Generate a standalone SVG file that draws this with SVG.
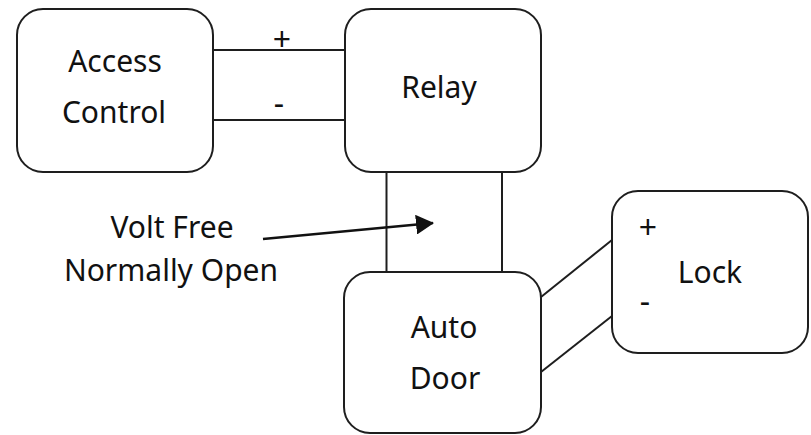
<svg xmlns="http://www.w3.org/2000/svg" width="811" height="435" viewBox="0 0 811 435">
  <style>
    .box { fill: #ffffff; stroke: #1e1e1e; stroke-width: 2; }
    .wire { fill: none; stroke: #1e1e1e; stroke-width: 2; }
    .label { font-family: "Noto Sans", "Open Sans", sans-serif; font-size: 30px; fill: #111111; text-anchor: middle; }
    .sign { font-family: "Noto Sans", "Open Sans", sans-serif; font-size: 32px; fill: #111111; text-anchor: middle; }
  </style>
  <defs>
    <marker id="arrowhead" viewBox="0 0 18 20" refX="17" refY="10" markerWidth="18" markerHeight="20" markerUnits="userSpaceOnUse" orient="auto">
      <path d="M0,0 L18,10 L0,20 z" fill="#111111"/>
    </marker>
  </defs>
  <rect width="811" height="435" fill="#ffffff"/>

  <!-- wiring between the units -->
  <g id="connectors">
    <line class="wire" x1="213" y1="50" x2="345" y2="50"/>
    <line class="wire" x1="213" y1="120" x2="345" y2="120"/>
    <line class="wire" x1="386.5" y1="172" x2="386.5" y2="272"/>
    <line class="wire" x1="502" y1="172" x2="502" y2="272"/>
    <line class="wire" x1="541" y1="297" x2="612" y2="240"/>
    <line class="wire" x1="541" y1="372" x2="612" y2="316"/>
    <line x1="263" y1="239" x2="433" y2="223" stroke="#111111" stroke-width="2.5" marker-end="url(#arrowhead)"/>
    <text class="sign" x="282" y="51">+</text>
    <text class="sign" x="279" y="115">-</text>
  </g>

  <g id="access-control">
    <rect class="box" x="17" y="9" width="196" height="163" rx="26" ry="26"/>
    <text class="label" x="115" y="72">Access</text>
    <text class="label" x="114" y="123">Control</text>
  </g>

  <g id="relay">
    <rect class="box" x="345" y="9" width="196" height="163" rx="26" ry="26"/>
    <text class="label" x="439" y="98">Relay</text>
  </g>

  <g id="contact-note">
    <text class="label" x="172" y="238">Volt Free</text>
    <text class="label" x="171" y="281">Normally Open</text>
  </g>

  <g id="auto-door">
    <rect class="box" x="344" y="272" width="197" height="161" rx="26" ry="26"/>
    <text class="label" x="444" y="338">Auto</text>
    <text class="label" x="445" y="389">Door</text>
  </g>

  <g id="lock">
    <rect class="box" x="612" y="191" width="196" height="162" rx="26" ry="26"/>
    <text class="label" x="710" y="283">Lock</text>
    <text class="sign" x="648" y="239">+</text>
    <text class="sign" x="645" y="313">-</text>
  </g>
</svg>
